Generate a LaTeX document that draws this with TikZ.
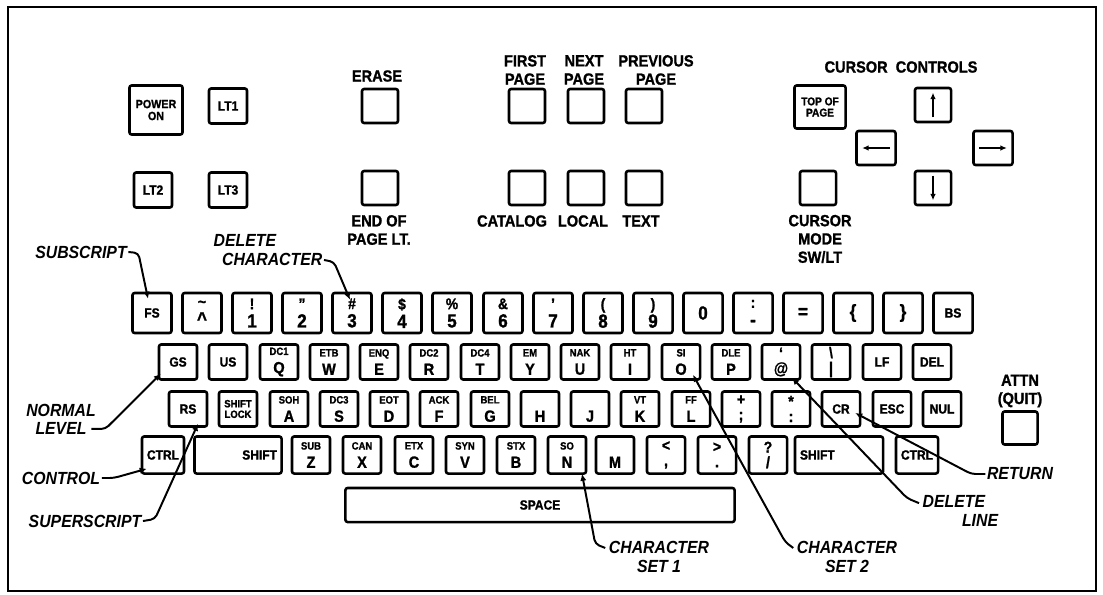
\documentclass[tikz,border=0pt]{standalone}
\usepackage{fontspec}
\setmainfont{Liberation Sans}[FakeStretch=0.9,BoldFeatures={FakeBold=1.2}]
\usetikzlibrary{arrows.meta}
\usetikzlibrary{calc}

\newcommand{\ctlkey}[2]{{\fontsize{7.5}{7.5}\selectfont #1}\\[2pt]#2}
\newcommand{\symkey}[2]{{\fontsize{11}{11}\selectfont #1}\\[0pt]#2}

\begin{document}
\begin{tikzpicture}[x=0.025cm,y=-0.025cm,
    key/.style={draw,line width=1.8pt,rounded corners=1.5pt,minimum width=0.95cm,minimum height=0.875cm,inner sep=1pt,align=center,font=\fontsize{11.5}{11}\selectfont\bfseries},
    numkey/.style={key,minimum width=0.975cm,minimum height=1cm,font=\fontsize{13.5}{13}\selectfont\bfseries},
    lowkey/.style={key,minimum height=0.925cm},
    namekey/.style={font=\fontsize{9.5}{9.5}\selectfont\bfseries},
    panel/.style={key,minimum width=0.9cm,minimum height=0.85cm},
    caption/.style={align=center,inner sep=1pt,font=\fontsize{11.5}{13}\selectfont\bfseries},
    callout/.style={align=center,inner sep=1pt,font=\fontsize{12.5}{13}\selectfont\bfseries\itshape},
    lead/.style={line width=1.4pt,rounded corners=3pt,-{Latex[length=5pt,width=4.5pt]}}]
    \useasboundingbox (0,0) rectangle (1103,594);
    \draw[line width=2pt] (8,7) rectangle (1096,591);

    % top panel
    \node[key,minimum width=1.325cm,minimum height=1.225cm,font=\fontsize{8.5}{8.5}\selectfont\bfseries] (kPower) at (156,110) {POWER\\ON};
    \node[key,namekey] (kLTa) at (228,106) {LT1};
    \node[key,namekey] (kLTb) at (153,190) {LT2};
    \node[key,namekey] (kLTc) at (228,190) {LT3};
    \node[caption] (lErase) at (377,76) {ERASE};
    \node[panel] (kErase) at (380,106) {};
    \node[panel] (kEndPage) at (380,188) {};
    \node[caption] (lEndPage) at (379,230) {END OF\\PAGE LT.};
    \node[caption] (lFirst) at (525,70) {FIRST\\PAGE};
    \node[caption] (lNext) at (584,70) {NEXT\\PAGE};
    \node[caption] (lPrev) at (656,70) {PREVIOUS\\PAGE};
    \node[panel] (kFirst) at (527,106) {};
    \node[panel] (kNext) at (586,106) {};
    \node[panel] (kPrev) at (644,106) {};
    \node[panel] (kCatalog) at (527,188) {};
    \node[panel] (kLocal) at (586,188) {};
    \node[panel] (kText) at (644,188) {};
    \node[caption] (lCatalog) at (512,221) {CATALOG};
    \node[caption] (lLocal) at (583,221) {LOCAL};
    \node[caption] (lText) at (641,221) {TEXT};

    % cursor controls
    \node[caption] (lCursor) at (901,67) {CURSOR\enspace CONTROLS};
    \node[key,minimum width=1.275cm,minimum height=1.075cm,font=\fontsize{8}{8}\selectfont\bfseries] (kTop) at (820,107) {TOP OF\\PAGE};
    \node[panel] (kUp) at (933,105) {};
    \node[panel,minimum width=0.975cm] (kLeft) at (876,148) {};
    \node[panel,minimum width=0.975cm] (kRight) at (993,148) {};
    \node[panel] (kDown) at (933,188) {};
    \node[panel] (kMode) at (818,188) {};
    \node[caption] (lMode) at (820,239) {CURSOR\\MODE\\SW/LT};
    \draw[line width=1.6pt,-{Latex[length=4.5pt,width=4pt]}] ($(kUp.south)+(0,-6)$) -- ($(kUp.north)+(0,6)$);
    \draw[line width=1.6pt,-{Latex[length=4.5pt,width=4pt]}] ($(kDown.north)+(0,6)$) -- ($(kDown.south)+(0,-6)$);
    \draw[line width=1.6pt,-{Latex[length=4.5pt,width=4pt]}] ($(kLeft.east)+(-7,0)$) -- ($(kLeft.west)+(7,0)$);
    \draw[line width=1.6pt,-{Latex[length=4.5pt,width=4pt]}] ($(kRight.west)+(7,0)$) -- ($(kRight.east)+(-7,0)$);

    % attention key
    \node[caption] (lAttn) at (1020,391) {ATTN\\(QUIT)};
    \node[panel,minimum width=0.875cm,minimum height=0.825cm] (kAttn) at (1020,428) {};

    % number row
    \node[numkey,namekey] (kFS) at (152,313) {FS};
    \node[numkey] (kTilde) at (202,313) {\symkey{\textasciitilde}{\textasciicircum}};
    \node[numkey] (k1) at (252,313) {\symkey{!}{1}};
    \node[numkey] (k2) at (302,313) {\symkey{"}{2}};
    \node[numkey] (k3) at (352,313) {\symkey{\#}{3}};
    \node[numkey] (k4) at (402,313) {\symkey{\$}{4}};
    \node[numkey] (k5) at (452,313) {\symkey{\%}{5}};
    \node[numkey] (k6) at (503,313) {\symkey{\&}{6}};
    \node[numkey] (k7) at (553,313) {\symkey{'}{7}};
    \node[numkey] (k8) at (603,313) {\symkey{(}{8}};
    \node[numkey] (k9) at (653,313) {\symkey{)}{9}};
    \node[numkey] (k0) at (703,313) {0};
    \node[numkey] (kColon) at (753,313) {\symkey{:}{-}};
    \node[numkey] (kEq) at (803,313) {=};
    \node[numkey] (kLBrace) at (853,313) {\{};
    \node[numkey] (kRBrace) at (903,313) {\}};
    \node[numkey,namekey] (kBS) at (953,313) {BS};

    % upper letter row
    \node[key,namekey] (kGS) at (178,362) {GS};
    \node[key,namekey] (kUS) at (228,362) {US};
    \node[key] (kQ) at (279,362) {\ctlkey{DC1}{Q}};
    \node[key] (kW) at (329,362) {\ctlkey{ETB}{W}};
    \node[key] (kE) at (379,362) {\ctlkey{ENQ}{E}};
    \node[key] (kR) at (429,362) {\ctlkey{DC2}{R}};
    \node[key] (kT) at (480,362) {\ctlkey{DC4}{T}};
    \node[key] (kY) at (530,362) {\ctlkey{EM}{Y}};
    \node[key] (kU) at (580,362) {\ctlkey{NAK}{U}};
    \node[key] (kI) at (630,362) {\ctlkey{HT}{I}};
    \node[key] (kO) at (681,362) {\ctlkey{SI}{O}};
    \node[key] (kP) at (731,362) {\ctlkey{DLE}{P}};
    \node[key] (kAt) at (781,362) {\symkey{`}{@}};
    \node[key] (kBslash) at (831,362) {\symkey{\textbackslash}{|}};
    \node[key,namekey] (kLF) at (882,362) {LF};
    \node[key,namekey] (kDEL) at (932,362) {DEL};

    % middle letter row
    \node[key,namekey] (kRS) at (188,409) {RS};
    \node[key,font=\fontsize{7.5}{7.5}\selectfont\bfseries] (kLock) at (238,409) {SHIFT\\LOCK};
    \node[key] (kA) at (289,409) {\ctlkey{SOH}{A}};
    \node[key] (kS) at (339,409) {\ctlkey{DC3}{S}};
    \node[key] (kD) at (389,409) {\ctlkey{EOT}{D}};
    \node[key] (kF) at (439,409) {\ctlkey{ACK}{F}};
    \node[key] (kG) at (490,409) {\ctlkey{BEL}{G}};
    \node[key] (kH) at (540,409) {\ctlkey{\phantom{X}}{H}};
    \node[key] (kJ) at (590,409) {\ctlkey{\phantom{X}}{J}};
    \node[key] (kK) at (640,409) {\ctlkey{VT}{K}};
    \node[key] (kL) at (691,409) {\ctlkey{FF}{L}};
    \node[key] (kPlus) at (741,409) {\symkey{+}{;}};
    \node[key] (kStar) at (791,409) {\symkey{*}{:}};
    \node[key,namekey] (kCR) at (841,409) {CR};
    \node[key,namekey] (kESC) at (892,409) {ESC};
    \node[key,namekey] (kNUL) at (942,409) {NUL};

    % lower letter row
    \node[lowkey,namekey,minimum width=1.05cm] (kCtlL) at (163,455) {CTRL};
    \node[lowkey,namekey,minimum width=2.175cm,text width=1.95cm,align=right] (kShL) at (238,455) {SHIFT};
    \node[lowkey] (kZ) at (311,455) {\ctlkey{SUB}{Z}};
    \node[lowkey] (kX) at (362,455) {\ctlkey{CAN}{X}};
    \node[lowkey] (kC) at (414,455) {\ctlkey{ETX}{C}};
    \node[lowkey] (kV) at (465,455) {\ctlkey{SYN}{V}};
    \node[lowkey] (kB) at (516,455) {\ctlkey{STX}{B}};
    \node[lowkey] (kN) at (567,455) {\ctlkey{SO}{N}};
    \node[lowkey] (kM) at (615,455) {\ctlkey{\phantom{X}}{M}};
    \node[lowkey] (kLess) at (666,455) {\symkey{<}{,}};
    \node[lowkey] (kGreater) at (717,455) {\symkey{>}{.}};
    \node[lowkey] (kQuest) at (768,455) {\symkey{?}{/}};
    \node[lowkey,namekey,minimum width=2.2cm,text width=1.95cm,align=left] (kShR) at (839,455) {SHIFT};
    \node[lowkey,namekey,minimum width=1.05cm] (kCtlR) at (917,455) {CTRL};
    \node[key,namekey,minimum width=9.725cm,minimum height=0.85cm] (kSpace) at (540,505) {SPACE};

    % callouts
    \node[callout] (lSub) at (81,252) {SUBSCRIPT};
    \node[callout,align=left,anchor=west] (lDelChar) at (212,250) {DELETE\\\hspace*{6pt}CHARACTER};
    \node[callout] (lNormal) at (61,419) {NORMAL\\LEVEL};
    \node[callout] (lCtl) at (61,478) {CONTROL};
    \node[callout] (lSup) at (85,521) {SUPERSCRIPT};
    \node[callout] (lRet) at (1020,474) {RETURN};
    \node[callout,align=left,anchor=west] (lDelLine) at (921,511) {DELETE\\\hspace*{28pt}LINE};
    \node[callout] (lSetA) at (659,557) {CHARACTER\\SET 1};
    \node[callout] (lSetB) at (847,557) {CHARACTER\\SET 2};

    \draw[lead] (lSub.east) -- ++(10,1) -- ($(kFS.north)+(-4,7)$);
    \draw[lead] ($(lDelChar.south east)+(0,-7)$) -- ++(10,2) -- ($(k3.north)+(-2,8)$);
    \draw[lead] ($(lNormal.south east)+(-6,-7)$) -- ++(14,0) -- ($(kGS.south west)+(3,-7)$);
    \draw[lead] (lCtl.east) -- ++(12,0) -- ($(kCtlL.south west)+(6,-6)$);
    \draw[lead] (lSup.east) -- ++(12,-2) -- ($(kRS.south)+(10,-4)$);
    \draw[lead] (lRet.west) -- ++(-14,0) -- ($(kCR.east)+(-6,4)$);
    \draw[lead] ($(lDelLine.north west)+(-2,9)$) -- ++(-12,-5) -- ($(kAt.south)+(11,-3)$);
    \draw[lead] ($(lSetA.north west)+(-2,8)$) -- ++(-10,-4) -- ($(kN.south)+(15,-1)$);
    \draw[lead] ($(lSetB.north west)+(-2,8)$) -- ++(-8,-6) -- ($(kO.south)+(12,-6)$);
\end{tikzpicture}
\end{document}
